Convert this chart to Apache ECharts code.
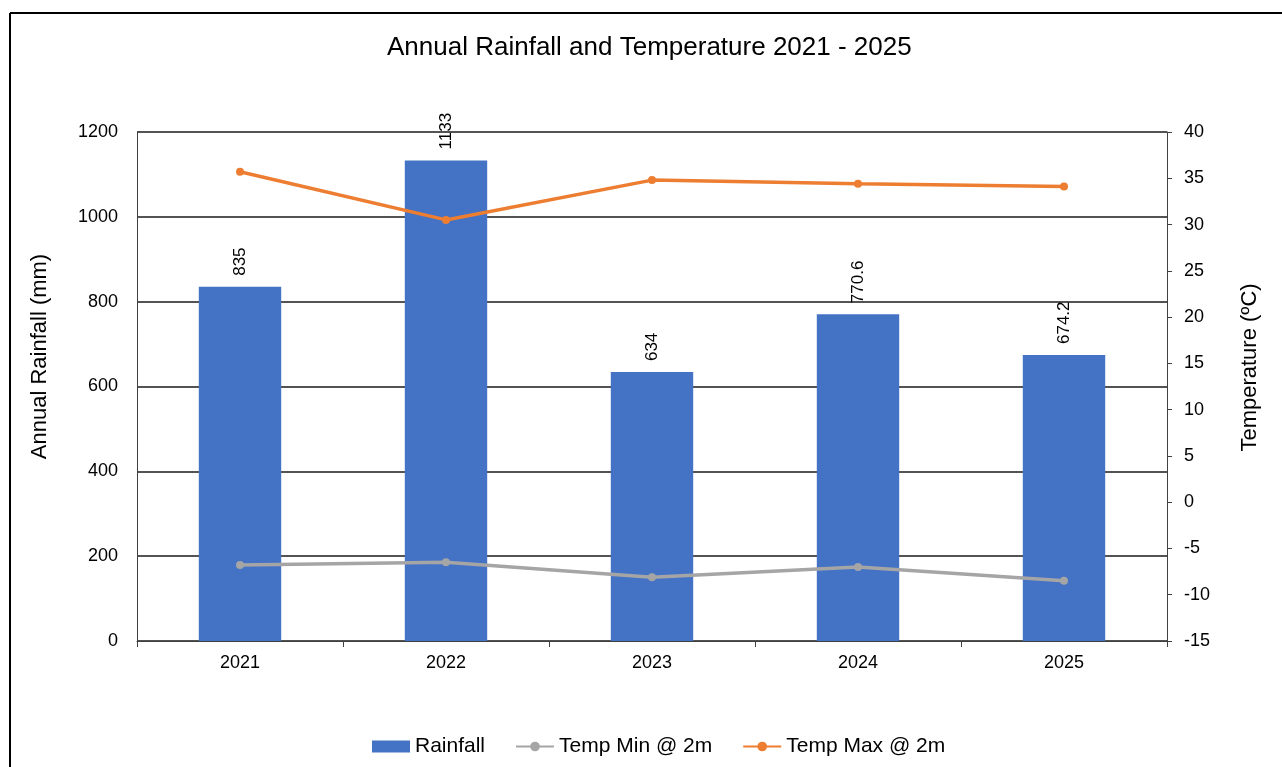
<!DOCTYPE html>
<html>
<head>
<meta charset="utf-8">
<script src="https://cdn.jsdelivr.net/npm/echarts@6/dist/echarts.min.js"></script>
<style>html,body{margin:0;padding:0;background:#fff}#c{width:1282px;height:767px}</style>
</head>
<body>
<div id="c"></div>
<script>
const years = ['2021', '2022', '2023', '2024', '2025'];
const rainfall = [835, 1133, 634, 770.6, 674.2];
const tempMin = [-6.8, -6.5, -8.1, -7.0, -8.5];
const tempMax = [35.7, 30.5, 34.8, 34.4, 34.1];

const FONT = '"Liberation Sans", Arial, sans-serif';
const chart = echarts.init(document.getElementById('c'));
chart.setOption({
  backgroundColor: '#fff',
  animation: false,
  title: {
    text: 'Annual Rainfall and Temperature 2021 - 2025',
    left: 382, top: 30,
    textStyle: { fontFamily: FONT, fontSize: 26, fontWeight: 'normal', color: '#000' }
  },
  graphic: [
    { type: 'line', shape: { x1: 10, y1: 13, x2: 1282, y2: 13 }, style: { stroke: '#000', lineWidth: 2 } },
    { type: 'line', shape: { x1: 10, y1: 13, x2: 10, y2: 767 }, style: { stroke: '#000', lineWidth: 2 } }
  ],
  legend: {
    top: 731, left: 367, itemGap: 30, itemWidth: 38, itemHeight: 12,
    textStyle: { fontFamily: FONT, fontSize: 21, color: '#000' },
    data: [
      { name: 'Rainfall', icon: 'rect' },
      { name: 'Temp Min @ 2m' },
      { name: 'Temp Max @ 2m' }
    ]
  },
  grid: { left: 137, right: 115, top: 132, bottom: 126 },
  xAxis: {
    type: 'category', data: years,
    axisLine: { show: true, lineStyle: { color: '#404040', width: 1 } },
    axisTick: { show: true, length: 6, lineStyle: { color: '#404040' } },
    axisLabel: { fontFamily: FONT, fontSize: 18, color: '#000', margin: 13 }
  },
  yAxis: [
    {
      type: 'value', min: 0, max: 1200, interval: 200,
      name: 'Annual Rainfall (mm)', nameLocation: 'middle', nameGap: 86, nameRotate: 90,
      nameTextStyle: { fontFamily: FONT, fontSize: 22, color: '#000', padding: [0, 0, 0, 60] },
      axisLine: { show: true, lineStyle: { color: '#404040' } },
      axisTick: { show: false },
      splitLine: { show: true, lineStyle: { color: '#1a1a1a', width: 1.5 } },
      axisLabel: { fontFamily: FONT, fontSize: 18, color: '#000', margin: 19, formatter: v => String(v) }
    },
    {
      type: 'value', min: -15, max: 40, interval: 5,
      name: 'Temperature (ºC)', nameLocation: 'middle', nameGap: 72, nameRotate: 90,
      nameTextStyle: { fontFamily: FONT, fontSize: 22, color: '#000', padding: [0, 0, 0, 38] },
      axisLine: { show: true, lineStyle: { color: '#404040' } },
      axisTick: { show: true, length: 5, lineStyle: { color: '#404040' } },
      splitLine: { show: false },
      axisLabel: { fontFamily: FONT, fontSize: 18, color: '#000', margin: 17 }
    }
  ],
  series: [
    {
      name: 'Rainfall', type: 'bar', data: rainfall, barWidth: '40%',
      itemStyle: { color: '#4472C4' },
      label: {
        show: true, position: 'top', rotate: 90, align: 'left', verticalAlign: 'middle',
        distance: 11, fontFamily: FONT, fontSize: 17, color: '#000'
      }
    },
    {
      name: 'Temp Min @ 2m', type: 'line', yAxisIndex: 1, data: tempMin,
      symbol: 'circle', symbolSize: 8,
      lineStyle: { color: '#A5A5A5', width: 3.5 }, itemStyle: { color: '#A5A5A5' }
    },
    {
      name: 'Temp Max @ 2m', type: 'line', yAxisIndex: 1, data: tempMax,
      symbol: 'circle', symbolSize: 8,
      lineStyle: { color: '#ED7D31', width: 3.5 }, itemStyle: { color: '#ED7D31' }
    }
  ]
});
</script>
</body>
</html>
